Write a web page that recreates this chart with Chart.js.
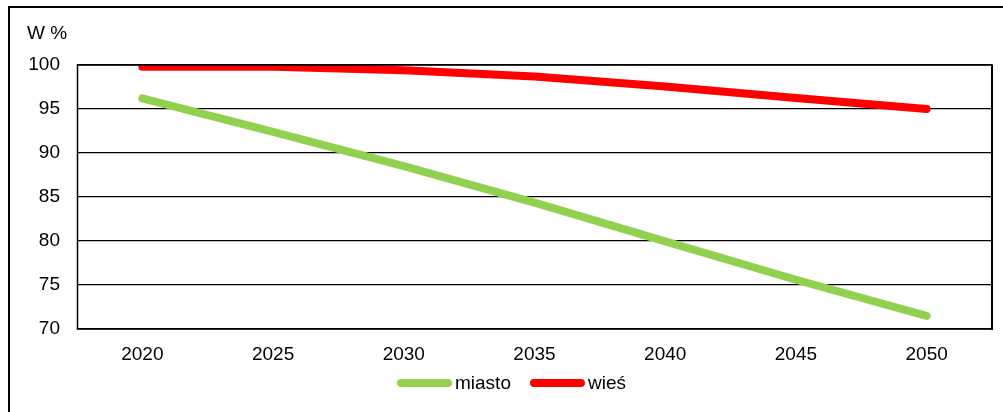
<!DOCTYPE html>
<html>
<head>
<meta charset="utf-8">
<script src="https://cdn.jsdelivr.net/npm/chart.js@4.4.1/dist/chart.umd.min.js"></script>
<style>
  html, body { margin: 0; padding: 0; background: #fff; }
  #wrap { width: 1003px; height: 412px; position: relative; }
</style>
</head>
<body>
<div id="wrap"><canvas id="c" width="1003" height="412"></canvas></div>
<script>
// Udział (%) w latach 2020–2050
const years = ['2020', '2025', '2030', '2035', '2040', '2045', '2050'];
const miasto = [96.2, 92.4, 88.5, 84.35, 79.95, 75.6, 71.5];
const wies = [99.8, 99.8, 99.4, 98.7, 97.55, 96.25, 95.0];
const yTicks = [70, 75, 80, 85, 90, 95, 100];
const unitLabel = 'W %';

const FONT = '"Liberation Sans", Arial, sans-serif';
const GREEN = '#92D050';
const RED = '#FF0000';

// Ramka wykresu, ramka obszaru kreślenia, opis osi i legenda
const framePlugin = {
  id: 'frame',
  beforeDraw(chart) {
    const ctx = chart.ctx;
    ctx.save();
    ctx.fillStyle = '#fff';
    ctx.fillRect(0, 0, chart.width, chart.height);
    ctx.fillStyle = '#000';
    ctx.fillRect(8, 6, 2, chart.height - 6);
    ctx.fillRect(8, 6, chart.width - 8, 2);
    ctx.font = '19px ' + FONT;
    ctx.textBaseline = 'alphabetic';
    ctx.textAlign = 'left';
    ctx.fillText(unitLabel, 27, 39);
    ctx.restore();
  },
  afterDraw(chart) {
    const ctx = chart.ctx;
    const a = chart.chartArea;
    ctx.save();
    ctx.strokeStyle = '#000';
    ctx.lineWidth = 1.5;
    ctx.strokeRect(a.left + 0.5, a.top, a.right - a.left - 0.5, a.bottom - a.top);
    ctx.lineWidth = 2;
    ctx.beginPath();
    ctx.moveTo(a.right, a.top);
    ctx.lineTo(a.right, a.bottom + 1);
    ctx.stroke();

    // legenda
    ctx.font = '19px ' + FONT;
    ctx.textBaseline = 'alphabetic';
    ctx.textAlign = 'left';
    let x = 397;
    const yLine = 383;
    chart.data.datasets.forEach(ds => {
      ctx.strokeStyle = ds.borderColor;
      ctx.lineWidth = ds.borderWidth;
      ctx.lineCap = 'round';
      ctx.beginPath();
      ctx.moveTo(x + ds.borderWidth / 2, yLine);
      ctx.lineTo(x + 55 - ds.borderWidth / 2, yLine);
      ctx.stroke();
      ctx.fillStyle = '#000';
      ctx.fillText(ds.label, x + 58, yLine + 6);
      x += 58 + ctx.measureText(ds.label).width + 19;
    });
    ctx.restore();
  }
};

new Chart(document.getElementById('c'), {
  type: 'line',
  data: {
    labels: years,
    datasets: [
      {
        label: 'miasto',
        data: miasto,
        borderColor: GREEN,
        backgroundColor: GREEN,
        borderWidth: 8,
        borderCapStyle: 'round',
        borderJoinStyle: 'round',
        pointRadius: 0,
        tension: 0,
        clip: 0
      },
      {
        label: 'wieś',
        data: wies,
        borderColor: RED,
        backgroundColor: RED,
        borderWidth: 8,
        borderCapStyle: 'round',
        borderJoinStyle: 'round',
        pointRadius: 0,
        tension: 0,
        clip: 0
      }
    ]
  },
  options: {
    responsive: false,
    animation: false,
    devicePixelRatio: 1,
    layout: { padding: { left: 0, top: 65, right: 11, bottom: 0 } },
    plugins: {
      legend: { display: false },
      tooltip: { enabled: false },
      title: { display: false }
    },
    scales: {
      x: {
        type: 'category',
        offset: true,
        grid: { display: false, drawTicks: false },
        border: { display: false },
        ticks: {
          color: '#000',
          font: { family: FONT, size: 19 },
          padding: 14,
          maxRotation: 0,
          autoSkip: false
        },
        afterFit(scale) { scale.height = 83; }
      },
      y: {
        min: 70,
        max: 100,
        grid: { color: '#000', lineWidth: 1.3, drawTicks: false },
        border: { display: false },
        afterBuildTicks(scale) { scale.ticks = yTicks.map(v => ({ value: v })); },
        ticks: {
          color: '#000',
          font: { family: FONT, size: 19 },
          padding: 17
        },
        afterFit(scale) { scale.width = 77; }
      }
    }
  },
  plugins: [framePlugin]
});
</script>
</body>
</html>
